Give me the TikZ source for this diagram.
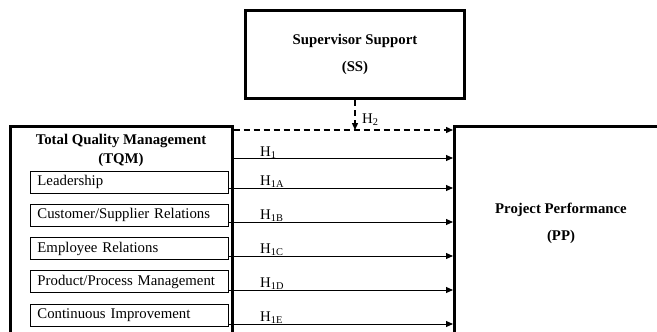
\documentclass[tikz,border=0pt]{standalone}
\usepackage{fontspec}
\setmainfont{Liberation Serif}
\usetikzlibrary{arrows.meta, positioning}

\begin{document}
\begin{tikzpicture}[x=1pt, y=-1pt, >={Triangle[length=7pt,width=6pt]},
    font=\fontsize{14.8}{18}\selectfont,
    bigbox/.style={draw, line width=3pt, inner sep=0pt},
    itembox/.style={draw, line width=0.9pt, anchor=west, minimum height=22pt,
        text width=184pt, inner xsep=7pt, inner ysep=0pt, align=left},
    link/.style={->, line width=1pt},
    hyp/.style={anchor=base west, inner sep=0pt}]

    \clip (0,0) rectangle (657,332);

    % the three main boxes
    \node[bigbox, minimum width=219pt, minimum height=88pt, align=center, font=\fontsize{14.8}{18}\selectfont\bfseries]
        (ss) at (355,54.5) {Supervisor Support\\[9pt](SS)};
    \node[bigbox, minimum width=222pt, minimum height=224pt] (tqm) at (121,238) {};
    \node[bigbox, minimum width=245pt, minimum height=223pt] (pp) at (577,238) {};

    \node[align=center, font=\fontsize{14.8}{18}\selectfont\bfseries] (tqmtitle) at (121,150.5)
        {Total Quality Management\\[1pt](TQM)};
    \node[align=center, font=\fontsize{14.8}{18}\selectfont\bfseries] (pptitle) at (561,223.5)
        {Project Performance\\[9pt](PP)};

    % TQM dimensions
    \node[itembox] (lead) at (30,182) {Leadership};
    \node[itembox] (cust) at (30,215.25) {Customer/Supplier Relations};
    \node[itembox] (emp)  at (30,248.5) {Employee Relations};
    \node[itembox] (prod) at (30,281.75) {Product/Process Management};
    \node[itembox] (cont) at (30,315) {Continuous Improvement};

    % moderating effect
    \draw[link, dashed, line width=1.4pt, dash pattern=on 6pt off 4pt] (tqm.east |- 0,130) -- (pp.west |- 0,130);
    \draw[link, dashed, line width=1.4pt, dash pattern=on 6pt off 4pt] (ss.south) -- (ss.south |- 0,130);
    \node[hyp] (h2) at (362,123) {H\textsubscript{2}};

    % direct effects
    \draw[link] (tqm.east |- 0,158) -- (pp.west |- 0,158);
    \node[hyp] (h1) at (260,156) {H\textsubscript{1}};
    \foreach \n/\y/\s in {lead/188/1A, cust/222/1B, emp/256/1C, prod/290/1D, cont/324/1E}{
        \draw[link] (\n.east |- 0,\y) -- (pp.west |- 0,\y);
        \node[hyp] (h\s) at (260,\y-2.5) {H\textsubscript{\s}};
    }
\end{tikzpicture}
\end{document}
